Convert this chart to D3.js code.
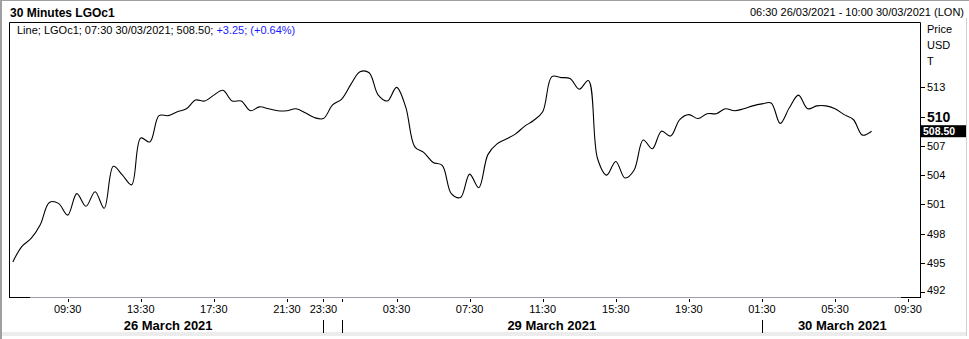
<!DOCTYPE html>
<html>
<head>
<meta charset="utf-8">
<script src="https://cdn.jsdelivr.net/npm/d3@7"></script>
<style>
  body { margin: 0; background: #fff; }
  svg { display: block; font-family: 'Liberation Sans', Arial, sans-serif; }
</style>
</head>
<body>
<div id="chart"></div>
<script>
// 30 minute closes, LGOc1, 06:30 26/03 .. 07:30 30/03 (bar index = trading half hours)
const prices = [
  495.1, 496.7, 497.5, 498.9, 501.2, 501.1, 499.9, 502.1, 500.8, 502.3,
  500.6, 504.9, 504.0, 503.0, 507.8, 507.4, 510.1, 510.1, 510.5, 510.8,
  511.7, 511.6, 512.2, 512.7, 511.6, 511.6, 510.6, 511.0, 510.8, 510.6,
  510.6, 510.8, 510.4, 509.9, 509.8, 511.2, 511.8, 513.3, 514.6, 514.5,
  512.2, 511.6, 513.0, 511.0, 506.9, 506.3, 505.3, 505.0, 502.1, 501.7,
  504.1, 502.7, 506.1, 507.2, 507.7, 508.2, 509.0, 509.6, 510.5, 514.1,
  514.0, 513.9, 512.8, 513.7, 505.7, 504.0, 505.4, 503.7, 504.5, 507.6,
  506.7, 508.5, 508.0, 509.7, 510.2, 509.8, 510.3, 510.3, 510.8, 510.6,
  510.8, 511.1, 511.3, 511.4, 509.3, 510.9, 512.2, 510.8, 511.1, 511.1,
  510.8, 510.2, 509.7, 508.1, 508.5
];

// time axis (bar index of each tick)
const tickIdx = [6, 14, 22, 30, 34, 36, 42, 50, 58, 66, 74, 82, 90, 98];
const tickLabels = ['09:30', '13:30', '17:30', '21:30', '23:30', '', '03:30', '07:30',
  '11:30', '15:30', '19:30', '01:30', '05:30', '09:30'];

const dayLabels = ['26 March 2021', '29 March 2021', '30 March 2021'];
const dayStart = [0, 36, 82];
const dayEnd = [34, 82, 99.6];
const dayBreaks = [34, 36, 82];

const priceTicks = [492, 495, 498, 501, 504, 507, 510, 513];

const width = 969;
const height = 339;
const plotLeft = 9;
const plotRight = 920;
const plotTop = 22;
const plotBottom = 297;

const svg = d3.select('#chart').append('svg')
  .attr('width', width)
  .attr('height', height);

// frame
svg.append('rect').attr('width', width).attr('height', height).attr('fill', '#fff');
svg.append('rect').attr('x', 0).attr('y', 332).attr('width', 966).attr('height', 4).attr('fill', '#ececec');
svg.append('line').attr('x1', 1).attr('x2', 1).attr('y1', 0).attr('y2', 339)
  .attr('stroke', '#a0a0a0').attr('stroke-width', 2);
svg.append('line').attr('x1', 0).attr('x2', width).attr('y1', 0.5).attr('y2', 0.5)
  .attr('stroke', '#a0a0a0');
svg.append('line').attr('x1', 966.5).attr('x2', 966.5).attr('y1', 18).attr('y2', 336)
  .attr('stroke', '#d0d0d0');

const x = d3.scaleLinear().domain([-0.42, 99.3]).range([plotLeft, plotRight]);
const y = d3.scaleLinear().domain([491.5, 519.7]).range([plotBottom, plotTop]);

// header
svg.append('text')
  .attr('x', 10).attr('y', 17)
  .attr('font-size', 12).attr('font-weight', 'bold')
  .text('30 Minutes LGOc1');

svg.append('text')
  .attr('x', 964).attr('y', 16)
  .attr('text-anchor', 'end')
  .attr('font-size', 11)
  .text('06:30 26/03/2021 - 10:00 30/03/2021 (LON)');

// legend
const legend = svg.append('text').attr('x', 17).attr('y', 34).attr('font-size', 11);
legend.append('tspan').text(`Line; LGOc1; 07:30 30/03/2021; ${prices[prices.length - 1].toFixed(2)}; `);
legend.append('tspan').attr('fill', '#1a1aff').text('+3.25; (+0.64%)');

// plot border
svg.append('path')
  .attr('d', `M${plotLeft + 0.5},${plotBottom}V${plotTop + 0.5}H${plotRight + 0.5}V${plotBottom + 0.5}`)
  .attr('fill', 'none').attr('stroke', '#000');
svg.append('line')
  .attr('x1', plotLeft).attr('x2', plotRight).attr('y1', plotBottom + 0.5).attr('y2', plotBottom + 0.5)
  .attr('stroke', '#9a9aa8');
svg.append('line')
  .attr('x1', plotLeft).attr('x2', 30).attr('y1', plotBottom + 0.5).attr('y2', plotBottom + 0.5)
  .attr('stroke', '#000');
svg.append('line')
  .attr('x1', 901).attr('x2', plotRight + 1).attr('y1', plotBottom + 0.5).attr('y2', plotBottom + 0.5)
  .attr('stroke', '#000');

// price axis
const yAxis = svg.append('g');
yAxis.selectAll('line').data(priceTicks).enter().append('line')
  .attr('x1', plotRight).attr('x2', plotRight + 5)
  .attr('y1', (d) => Math.round(y(d)) + 0.5)
  .attr('y2', (d) => Math.round(y(d)) + 0.5)
  .attr('stroke', '#000');
yAxis.selectAll('text').data(priceTicks).enter().append('text')
  .attr('x', plotRight + 7)
  .attr('y', (d) => y(d) + (d === 510 ? 5 : 4) - (d === 492 ? 2 : 0))
  .attr('font-size', (d) => (d === 510 ? 14 : 11))
  .attr('font-weight', (d) => (d === 510 ? 'bold' : 'normal'))
  .text((d) => d);

['Price', 'USD', 'T'].forEach((t, i) => {
  svg.append('text').attr('x', 927).attr('y', 33 + i * 16).attr('font-size', 11).text(t);
});

// last price marker
const last = prices[prices.length - 1];
svg.append('rect')
  .attr('x', plotRight + 1).attr('y', y(last) - 6)
  .attr('width', 45).attr('height', 12)
  .attr('fill', '#000');
svg.append('text')
  .attr('x', plotRight + 3).attr('y', y(last) + 4)
  .attr('font-size', 10.5).attr('font-weight', 'bold')
  .attr('fill', '#fff')
  .text(last.toFixed(2));

// time axis
const xAxis = svg.append('g');
xAxis.selectAll('line').data(tickIdx).enter().append('line')
  .attr('x1', (d) => Math.round(x(d)) + 0.5).attr('x2', (d) => Math.round(x(d)) + 0.5)
  .attr('y1', 299).attr('y2', 302)
  .attr('stroke', '#000');
xAxis.selectAll('text').data(tickIdx).enter().append('text')
  .attr('x', (d) => x(d))
  .attr('y', 313)
  .attr('text-anchor', 'middle')
  .attr('font-size', 11)
  .text((d, i) => tickLabels[i]);

svg.selectAll('.daybreak').data(dayBreaks).enter().append('line')
  .attr('class', 'daybreak')
  .attr('x1', (d) => Math.round(x(d)) + 0.5).attr('x2', (d) => Math.round(x(d)) + 0.5)
  .attr('y1', 320).attr('y2', 333)
  .attr('stroke', '#000');

svg.selectAll('.day').data(dayLabels).enter().append('text')
  .attr('class', 'day')
  .attr('x', (d, i) => (x(dayStart[i]) + x(dayEnd[i])) / 2)
  .attr('y', 330)
  .attr('text-anchor', 'middle')
  .attr('font-size', 13).attr('font-weight', 'bold')
  .text((d) => d);

// price line
const line = d3.line()
  .x((d, i) => x(i))
  .y((d) => y(d))
  .curve(d3.curveCatmullRom.alpha(0.5));

svg.append('path')
  .datum(prices)
  .attr('d', line)
  .attr('fill', 'none')
  .attr('stroke', '#000')
  .attr('stroke-width', 1.1);
</script>
</body>
</html>
